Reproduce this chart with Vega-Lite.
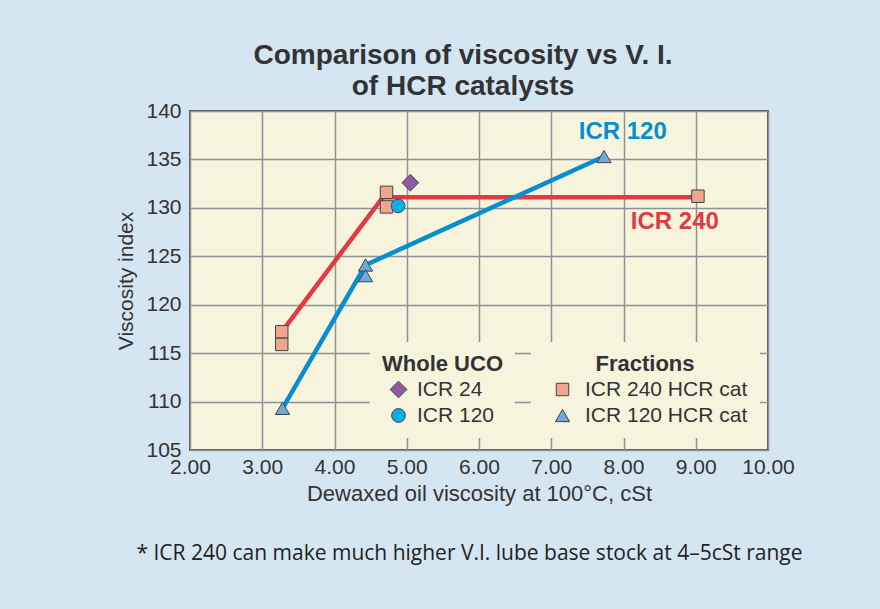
{
  "$schema": "https://vega.github.io/schema/vega-lite/v6.json",
  "width": 578,
  "height": 339,
  "autosize": {"type": "none"},
  "padding": {"left": 190, "top": 111, "right": 112, "bottom": 159},
  "background": "#d4e6f1",
  "config": {
    "font": "Liberation Sans",
    "view": {"fill": "#f6f4dc", "stroke": "#555555", "strokeWidth": 2}
  },
  "title": {
    "text": ["Comparison of viscosity vs V. I.", "of HCR catalysts"],
    "fontSize": 28,
    "fontWeight": "bold",
    "color": "#333333",
    "lineHeight": 31,
    "offset": -1,
    "dx": -16,
    "anchor": "middle"
  },
  "datasets": {
    "lines": [
      {"series": "ICR 240", "visc": 3.27, "vi": 117.2},
      {"series": "ICR 240", "visc": 4.67, "vi": 131.1},
      {"series": "ICR 240", "visc": 9.03, "vi": 131.1},
      {"series": "ICR 120", "visc": 3.28, "vi": 109.3},
      {"series": "ICR 120", "visc": 4.43, "vi": 124.1},
      {"series": "ICR 120", "visc": 7.73, "vi": 135.3}
    ],
    "fractions": [
      {"cat": "ICR 240 HCR cat", "visc": 3.27, "vi": 117.2},
      {"cat": "ICR 240 HCR cat", "visc": 3.27, "vi": 115.9},
      {"cat": "ICR 240 HCR cat", "visc": 4.72, "vi": 131.6},
      {"cat": "ICR 240 HCR cat", "visc": 4.72, "vi": 130.1},
      {"cat": "ICR 240 HCR cat", "visc": 9.03, "vi": 131.2},
      {"cat": "ICR 120 HCR cat", "visc": 3.28, "vi": 109.3},
      {"cat": "ICR 120 HCR cat", "visc": 4.43, "vi": 124.1},
      {"cat": "ICR 120 HCR cat", "visc": 4.43, "vi": 123.0},
      {"cat": "ICR 120 HCR cat", "visc": 7.73, "vi": 135.3}
    ],
    "uco": [
      {"uco": "ICR 24", "visc": 5.05, "vi": 132.6},
      {"uco": "ICR 120", "visc": 4.88, "vi": 130.2}
    ],
    "labels": [
      {"series": "ICR 120", "visc": 7.99, "vi": 137.8},
      {"series": "ICR 240", "visc": 8.71, "vi": 128.5}
    ]
  },
  "layer": [
    {
      "layer": [
        {
          "data": {"name": "lines"},
          "mark": {"type": "line", "strokeWidth": 4.5},
          "encoding": {
            "x": {
              "field": "visc", "type": "quantitative",
              "scale": {"domain": [2, 10], "nice": false, "zero": false},
              "axis": {
                "values": [2, 3, 4, 5, 6, 7, 8, 9, 10],
                "format": ".2f",
                "grid": true, "gridColor": "#8d9296", "gridWidth": 1.5,
                "ticks": false, "domain": false, "labelFlush": false,
                "labelFontSize": 21, "labelColor": "#333333", "labelPadding": 6,
                "title": "Dewaxed oil viscosity at 100°C, cSt",
                "titleFontSize": 22, "titleFontWeight": "normal", "titleColor": "#333333", "titlePadding": 6
              }
            },
            "y": {
              "field": "vi", "type": "quantitative",
              "scale": {"domain": [105, 140], "nice": false, "zero": false},
              "axis": {
                "values": [105, 110, 115, 120, 125, 130, 135, 140],
                "grid": true, "gridColor": "#8d9296", "gridWidth": 1.5,
                "ticks": false, "domain": false,
                "labelFontSize": 21, "labelColor": "#333333", "labelPadding": 9,
                "title": "Viscosity index",
                "titleFontSize": 21, "titleFontWeight": "normal", "titleColor": "#333333", "titlePadding": 9
              }
            },
            "color": {
              "field": "series", "type": "nominal",
              "scale": {"domain": ["ICR 240", "ICR 120"], "range": ["#e03a44", "#0a8dcf"]},
              "legend": null
            }
          }
        },
        {
          "data": {"name": "fractions"},
          "mark": {"type": "point", "filled": true, "opacity": 1, "stroke": "#444444", "strokeWidth": 1},
          "encoding": {
            "x": {"field": "visc", "type": "quantitative"},
            "y": {"field": "vi", "type": "quantitative"},
            "size": {
              "field": "cat", "type": "nominal",
              "scale": {"domain": ["ICR 240 HCR cat", "ICR 120 HCR cat"], "range": [155, 200]},
              "legend": null
            },
            "color": {
              "field": "cat", "type": "nominal",
              "scale": {"domain": ["ICR 240 HCR cat", "ICR 120 HCR cat"], "range": ["#eea68c", "#6fa9db"]},
              "legend": {
                "title": "Fractions", "orient": "none", "legendX": 341, "legendY": 231,
                "fillColor": "#f6f4dc", "padding": 12, "titleAnchor": "middle",
                "titleFontSize": 22, "titleFontWeight": "bold", "titleColor": "#333333", "titlePadding": 3,
                "labelFontSize": 21, "labelColor": "#333333", "labelOffset": 12, "labelLimit": 400,
                "symbolStrokeColor": "#444444", "symbolStrokeWidth": 1, "symbolSize": 190, "symbolOffset": 9,
                "rowPadding": 4
              }
            },
            "shape": {
              "field": "cat", "type": "nominal",
              "scale": {"domain": ["ICR 240 HCR cat", "ICR 120 HCR cat"], "range": ["square", "triangle-up"]},
              "legend": {
                "title": "Fractions", "orient": "none", "legendX": 341, "legendY": 231,
                "fillColor": "#f6f4dc", "padding": 12, "titleAnchor": "middle",
                "titleFontSize": 22, "titleFontWeight": "bold", "titleColor": "#333333", "titlePadding": 3,
                "labelFontSize": 21, "labelColor": "#333333", "labelOffset": 12, "labelLimit": 400,
                "symbolStrokeColor": "#444444", "symbolStrokeWidth": 1, "symbolSize": 190, "symbolOffset": 9,
                "rowPadding": 4
              }
            }
          }
        },
        {
          "data": {"name": "uco"},
          "mark": {"type": "point", "filled": true, "opacity": 1, "stroke": "#444444", "strokeWidth": 1},
          "encoding": {
            "x": {"field": "visc", "type": "quantitative"},
            "y": {"field": "vi", "type": "quantitative"},
            "size": {
              "field": "uco", "type": "nominal",
              "scale": {"domain": ["ICR 24", "ICR 120"], "range": [280, 190]},
              "legend": null
            },
            "color": {
              "field": "uco", "type": "nominal",
              "scale": {"domain": ["ICR 24", "ICR 120"], "range": ["#8d5aa3", "#08aee8"]},
              "legend": {
                "title": "Whole UCO", "orient": "none", "legendX": 180, "legendY": 231,
                "fillColor": "#f6f4dc", "padding": 12,
                "titleFontSize": 22, "titleFontWeight": "bold", "titleColor": "#333333", "titlePadding": 3,
                "labelFontSize": 21, "labelColor": "#333333", "labelOffset": 8, "labelLimit": 400,
                "symbolStrokeColor": "#444444", "symbolStrokeWidth": 1, "symbolSize": 250, "symbolOffset": 6,
                "rowPadding": 4
              }
            },
            "shape": {
              "field": "uco", "type": "nominal",
              "scale": {"domain": ["ICR 24", "ICR 120"], "range": ["diamond", "circle"]},
              "legend": {
                "title": "Whole UCO", "orient": "none", "legendX": 180, "legendY": 231,
                "fillColor": "#f6f4dc", "padding": 12,
                "titleFontSize": 22, "titleFontWeight": "bold", "titleColor": "#333333", "titlePadding": 3,
                "labelFontSize": 21, "labelColor": "#333333", "labelOffset": 8, "labelLimit": 400,
                "symbolStrokeColor": "#444444", "symbolStrokeWidth": 1, "symbolSize": 250, "symbolOffset": 6,
                "rowPadding": 4
              }
            }
          }
        },
        {
          "data": {"name": "labels"},
          "mark": {"type": "text", "fontSize": 24, "fontWeight": "bold", "align": "center", "baseline": "middle"},
          "encoding": {
            "x": {"field": "visc", "type": "quantitative"},
            "y": {"field": "vi", "type": "quantitative"},
            "text": {"field": "series"},
            "color": {
              "field": "series", "type": "nominal",
              "scale": {"domain": ["ICR 240", "ICR 120"], "range": ["#e03a44", "#0a8dcf"]},
              "legend": null
            }
          }
        }
      ],
      "resolve": {"scale": {"color": "independent", "shape": "independent", "size": "independent"}}
    },
    {
      "data": {"name": "labels"},
      "mark": {"type": "point", "opacity": 0},
      "encoding": {
        "x": {
          "field": "visc", "type": "quantitative",
          "scale": {"domain": [2, 10], "nice": false, "zero": false},
          "axis": {
            "orient": "bottom",
            "title": "* ICR 240 can make much higher V.I. lube base stock at 4–5cSt range",
            "labels": false, "ticks": false, "domain": false, "grid": false,
            "titleFont": "Open Sans", "titleFontSize": 21, "titleFontWeight": "normal",
            "titleColor": "#222222", "titlePadding": 92, "titleX": 279
          }
        }
      }
    }
  ],
  "resolve": {"axis": {"x": "independent"}}
}
